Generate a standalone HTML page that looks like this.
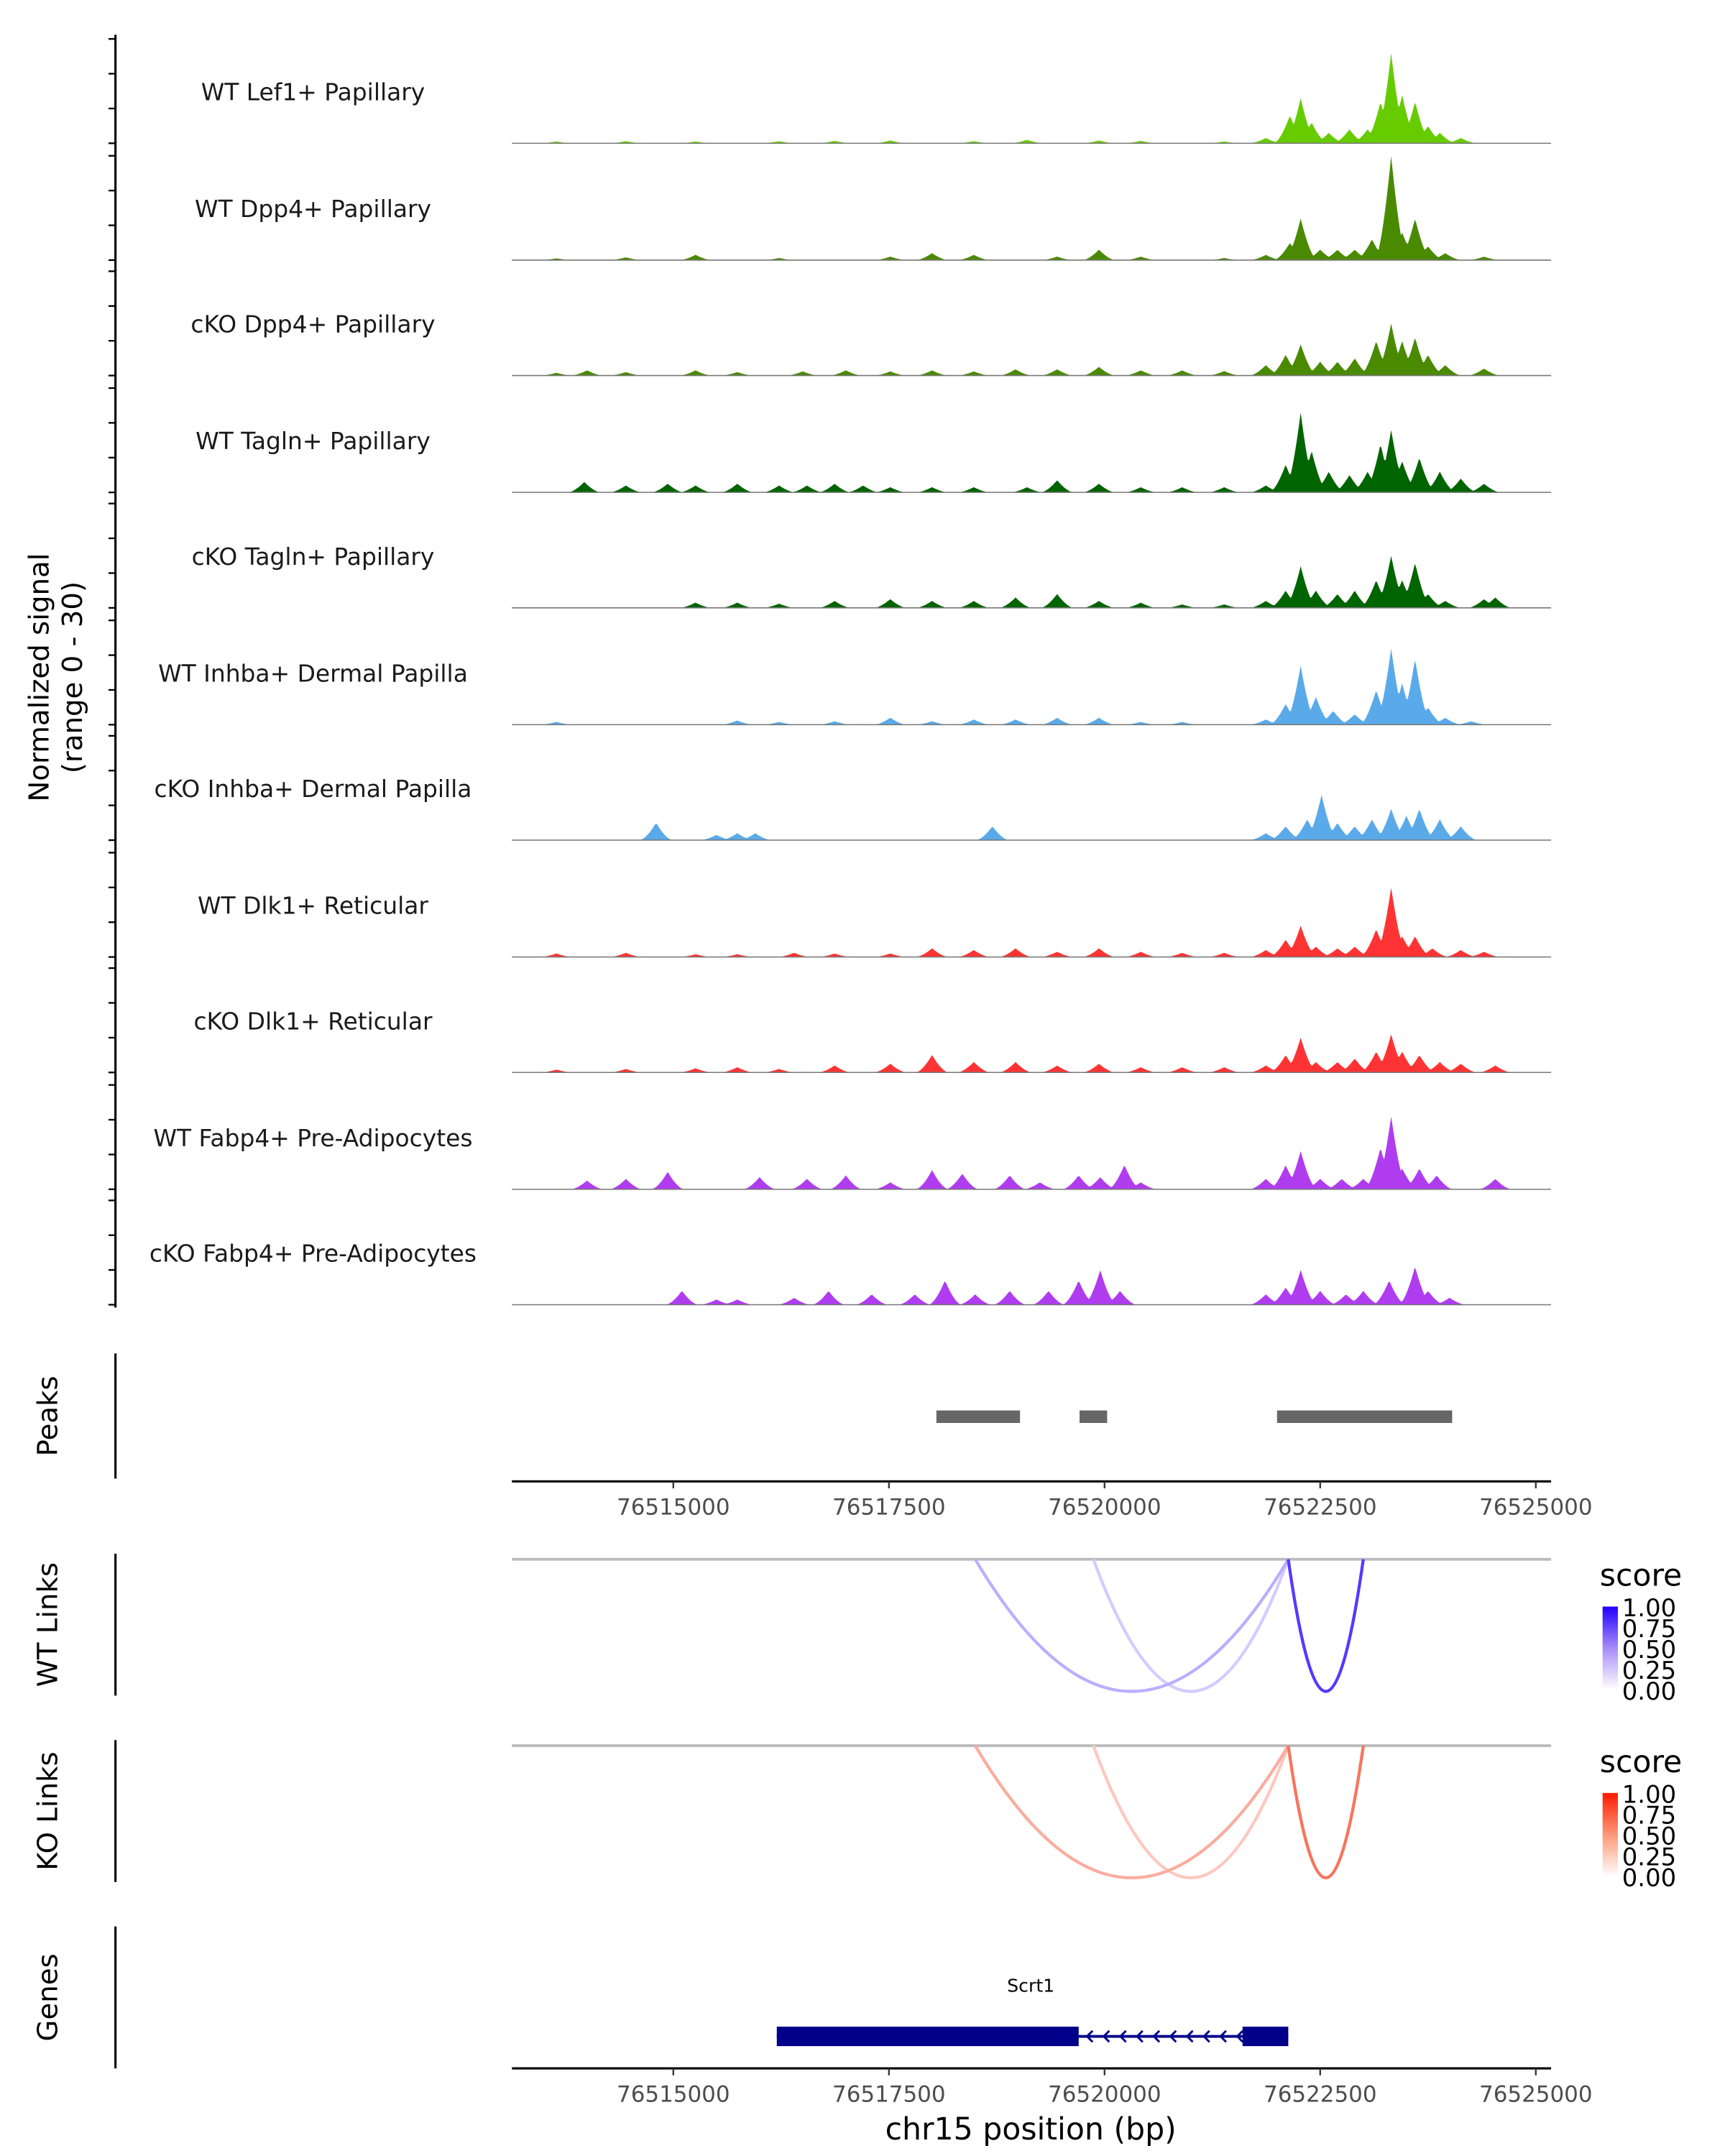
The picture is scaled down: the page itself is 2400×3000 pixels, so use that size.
<!DOCTYPE html>
<html><head><meta charset="utf-8"><style>
html,body{margin:0;padding:0;background:#fff}
svg{display:block;font-family:"DejaVu Sans","Liberation Sans",sans-serif}
</style></head><body>
<svg id="chart" width="2400" height="3000" viewBox="0 0 1240 1550" xmlns="http://www.w3.org/2000/svg">
<defs>
<linearGradient id="gBlue" x1="0" y1="1" x2="0" y2="0"><stop offset="0" stop-color="#ffffff"/><stop offset="0.5" stop-color="#a88cf8"/><stop offset="1" stop-color="#2200ff"/></linearGradient>
<linearGradient id="gRed" x1="0" y1="1" x2="0" y2="0"><stop offset="0" stop-color="#ffffff"/><stop offset="0.5" stop-color="#fb9878"/><stop offset="1" stop-color="#ff1a00"/></linearGradient>
</defs>
<g id="root"></g>
</svg>
<script>
const trackNames = ["WT Lef1+ Papillary","WT Dpp4+ Papillary","cKO Dpp4+ Papillary","WT Tagln+ Papillary","cKO Tagln+ Papillary","WT Inhba+ Dermal Papilla","cKO Inhba+ Dermal Papilla","WT Dlk1+ Reticular","cKO Dlk1+ Reticular","WT Fabp4+ Pre-Adipocytes","cKO Fabp4+ Pre-Adipocytes"];
const trackColors = ["#66cc00","#4a8a00","#4a8a00","#006400","#006400","#5aaaea","#5aaaea","#ff3333","#ff3333","#b03cf0","#b03cf0"];
const sig1=[[76513645,0.5],[76514450,0.6],[76515258,0.5],[76516226,0.6],[76516870,0.7],[76517516,0.8],[76518484,0.6],[76519100,1.0],[76519935,0.8],[76520420,0.7],[76521387,0.5],[76521870,1.5],[76522150,8],[76522274,13],[76522400,6],[76522600,3],[76522840,4],[76523050,4],[76523200,12],[76523323,26],[76523450,14],[76523600,12],[76523750,5],[76523887,3],[76524130,1.5]];
const sig2=[[76513645,0.5],[76514450,0.8],[76515258,1.5],[76516226,0.6],[76517516,1],[76518000,2],[76518484,1.5],[76519450,1],[76519935,3],[76520420,1],[76521387,0.6],[76521870,1.5],[76522150,5],[76522274,12],[76522500,3],[76522700,3],[76522900,3],[76523100,6],[76523323,30],[76523450,8],[76523600,12],[76523750,4],[76523950,2],[76524400,1]];
const sig3=[[76513645,0.8],[76514000,1.5],[76514450,1],[76515258,1.5],[76515742,1],[76516500,1.2],[76517000,1.5],[76517516,1.2],[76518000,1.5],[76518484,1.2],[76518968,1.8],[76519450,1.8],[76519935,2.5],[76520420,1.5],[76520900,1.5],[76521387,1.3],[76521870,3],[76522100,6],[76522274,9],[76522500,4],[76522700,4],[76522900,5],[76523150,10],[76523323,15],[76523450,10],[76523600,11],[76523750,6],[76523950,3],[76524400,2]];
const sig4=[[76513968,3],[76514450,2],[76514935,2.5],[76515258,2],[76515742,2.5],[76516226,2],[76516550,2],[76516870,2.5],[76517200,2],[76517516,1.5],[76518000,1.5],[76518484,1.5],[76519100,1.5],[76519450,3.5],[76519935,2.5],[76520420,1.5],[76520900,1.5],[76521387,1.5],[76521870,2],[76522100,8],[76522274,23],[76522400,12],[76522600,6],[76522840,5],[76523050,6],[76523200,14],[76523323,18],[76523450,9],[76523650,10],[76523887,6],[76524130,4],[76524400,2.5]];
const sig5=[[76515258,1.5],[76515742,1.5],[76516226,1.2],[76516870,2],[76517516,2.5],[76518000,2],[76518484,2],[76518968,3],[76519450,4],[76519935,2],[76520420,1.5],[76520900,1],[76521387,1],[76521870,2],[76522100,5],[76522274,12],[76522450,5],[76522700,4],[76522900,5],[76523150,8],[76523323,15],[76523450,8],[76523600,13],[76523750,4],[76523950,2],[76524400,2.5],[76524530,3]];
const sig6=[[76513645,0.8],[76515742,1.2],[76516226,0.8],[76516870,1],[76517516,2],[76518000,1],[76518484,1.5],[76518968,1.5],[76519450,2],[76519935,2],[76520420,0.8],[76520900,0.8],[76521870,1.5],[76522100,6],[76522274,17],[76522450,8],[76522650,4],[76522900,3],[76523150,10],[76523323,22],[76523450,12],[76523600,19],[76523750,5],[76523950,2],[76524250,1]];
const sig7=[[76514800,5],[76515500,1.5],[76515742,2],[76515950,2],[76518700,4],[76521870,2],[76522100,4],[76522350,6],[76522516,13],[76522700,5],[76522900,4],[76523100,6],[76523323,9],[76523500,7],[76523650,9],[76523887,6],[76524130,4]];
const sig8=[[76513645,1],[76514450,1.2],[76515258,0.8],[76515742,0.8],[76516400,1.2],[76516870,1],[76517516,1],[76518000,2.5],[76518484,2],[76518968,2.5],[76519450,1.5],[76519935,2.5],[76520420,1.5],[76520900,1.2],[76521387,1.2],[76521870,2],[76522100,5],[76522274,9],[76522450,3],[76522700,2.5],[76522900,3],[76523150,8],[76523323,20],[76523450,6],[76523600,6],[76523800,2.5],[76524130,2],[76524400,1.5]];
const sig9=[[76513645,0.8],[76514450,1],[76515258,1.2],[76515742,1.5],[76516226,1],[76516870,2],[76517516,2.5],[76518000,5],[76518484,3],[76518968,3],[76519450,2],[76519935,2.5],[76520420,1.5],[76520900,1.5],[76521387,1.5],[76521870,2],[76522100,5],[76522274,10],[76522450,3],[76522700,3],[76522900,4],[76523150,6],[76523323,11],[76523450,6],[76523650,5],[76523887,3],[76524130,2.5],[76524530,2]];
const sig10=[[76514000,2.5],[76514450,3],[76514935,5],[76516000,3.5],[76516550,3],[76517000,4],[76517516,2],[76518000,5.5],[76518350,4.5],[76518900,4],[76519250,2],[76519700,4],[76519950,3.5],[76520230,7],[76520420,2],[76521870,3],[76522100,7],[76522274,11],[76522500,3],[76522750,3],[76523000,3],[76523200,12],[76523323,21],[76523450,6],[76523650,6],[76523850,4],[76524530,3]];
const sig11=[[76515100,4],[76515500,1.5],[76515742,1.5],[76516400,2],[76516800,4],[76517300,3],[76517800,3],[76518150,7],[76518500,3],[76518900,4],[76519350,4],[76519700,7],[76519950,10],[76520180,4],[76521870,3],[76522100,5],[76522274,10],[76522500,4],[76522800,3],[76523000,4],[76523300,7],[76523600,11],[76523750,4],[76524000,2]];
const signals=[sig1,sig2,sig3,sig4,sig5,sig6,sig7,sig8,sig9,sig10,sig11];
const peakStarts=[76518050,76519710,76522000];
const peakEnds=[76519020,76520030,76524030];
const xTicks=[76515000,76517500,76520000,76522500,76525000];
const xTickLabels=["76515000","76517500","76520000","76522500","76525000"];
const wtLinkStart=[76518500,76519870,76522130];
const wtLinkEnd=[76522130,76522130,76523000];
const wtLinkScore=[0.35,0.22,0.85];
const koLinkStart=[76518500,76519870,76522130];
const koLinkEnd=[76522130,76522130,76523000];
const koLinkScore=[0.45,0.3,0.75];
const legendLabels=["1.00","0.75","0.50","0.25","0.00"];
const geneExonStart=[76516200,76521600];
const geneExonEnd=[76519700,76522130];

const NS="http://www.w3.org/2000/svg";
const root=document.getElementById('root');
function mk(tag,attrs,parent){const e=document.createElementNS(NS,tag);for(const k in attrs)e.setAttribute(k,attrs[k]);(parent||root).appendChild(e);return e;}
const X0=368,X1=1115,BP0=76513129,PXPERBP=62/1000;
function xs(bp){return X0+(bp-BP0)*PXPERBP;}
const baseY=[103,187,270,354,437,521,604,688,771,855,938];
const valPx=2.5, HW=190;

let e=mk('line',{x1:83,y1:25,x2:83,y2:940,stroke:'#000','stroke-width':1.6});

baseY.forEach((b,i)=>{
  [0,25,50,75].forEach(o=>{const t=mk('line',{x1:78,y1:b-o,x2:83,y2:b-o,stroke:'#000','stroke-width':1.2});
  });
});
let yt=mk('text',{x:0,y:0,'font-size':20,'text-anchor':'middle',fill:'#000',transform:'translate(41,487) rotate(-90)'});

let ts1=mk('tspan',{x:0,dy:-6},yt);ts1.textContent='Normalized signal';
let ts2=mk('tspan',{x:0,dy:24},yt);ts2.textContent='(range 0 - 30)';

signals.forEach((pts,i)=>{
  const b=baseY[i];
  let d='M'+X0+','+b;
  for(let px=X0;px<=X1;px+=1){
    const bp=BP0+(px-X0)/PXPERBP;let v=0;
    pts.forEach(p=>{const dd=Math.abs(bp-p[0])/HW;if(dd<1){const w=Math.pow(1-dd,1.6);v=Math.max(v,p[1]*w);}});
    d+=' L'+px+','+(b-v*valPx).toFixed(2);
  }
  d+=' L'+X1+','+b+' Z';
  const a=mk('path',{d:d,fill:trackColors[i],stroke:'none'});
  
  const bl=mk('line',{x1:X0,y1:b,x2:X1,y2:b,stroke:'#777','stroke-width':0.8});
  
  const lb=mk('text',{x:225,y:b-31,'font-size':17,'text-anchor':'middle',fill:'#1a1a1a'});
  
  lb.textContent=trackNames[i];
});

function panelAxis(y0,y1,title,cy){
  const l=mk('line',{x1:83,y1:y0,x2:83,y2:y1,stroke:'#000','stroke-width':1.6});
  
  const t=mk('text',{x:0,y:0,'font-size':20,'text-anchor':'middle',fill:'#000',transform:'translate(41,'+cy+') rotate(-90)'});
  
  t.textContent=title;
}
panelAxis(973,1063,'Peaks',1018);
panelAxis(1117,1219,'WT Links',1168);
panelAxis(1251,1353,'KO Links',1302);
panelAxis(1385,1487,'Genes',1436);

peakStarts.forEach((s,i)=>{
  const r=mk('rect',{x:xs(s),y:1014,width:xs(peakEnds[i])-xs(s),height:9,fill:'#666'});
  
});

function xAxis(y){
  const l=mk('line',{x1:X0,y1:y,x2:X1,y2:y,stroke:'#000','stroke-width':1.6});
  
  xTicks.forEach((t,i)=>{
    const tk=mk('line',{x1:xs(t),y1:y,x2:xs(t),y2:y+5,stroke:'#333','stroke-width':1.2});
    
    const tl=mk('text',{x:xs(t),y:y+24,'font-size':16,'text-anchor':'middle',fill:'#4d4d4d'});
    
    tl.textContent=xTickLabels[i];
  });
}
xAxis(1065);

function links(y,st,en,sc,c1,grad,name){
  const bl=mk('line',{x1:X0,y1:y,x2:X1,y2:y,stroke:'#bbb','stroke-width':2});
  
  const idx=sc.map((s,i)=>i).sort((a,b)=>sc[a]-sc[b]);
  idx.forEach(i=>{
    const a=xs(st[i]),b=xs(en[i]),m=(a+b)/2;
    const col=c1(sc[i]);
    const p=mk('path',{d:'M'+a+','+y+' Q'+m+','+(y+2*95)+' '+b+','+y,fill:'none',stroke:col,'stroke-width':2.2});
    
  });
  const lt=mk('text',{x:1150,y:y+19,'font-size':22,fill:'#000'});
  lt.textContent='score';
  const r=mk('rect',{x:1152,y:y+34,width:11,height:60,fill:'url(#'+grad+')'});
  
  legendLabels.forEach((t,k)=>{
    const tx=mk('text',{x:1166,y:y+41+k*15,'font-size':17.5,fill:'#000'});
    
    tx.textContent=t;
  });
}
function mix(c,s){return 'rgb('+c.map(v=>Math.round(255+(v-255)*s)).join(',')+')';}
links(1121,wtLinkStart,wtLinkEnd,wtLinkScore,s=>mix([60,20,255],Math.min(1,s*1.0)),'gBlue','wt-links');
links(1255,koLinkStart,koLinkEnd,koLinkScore,s=>mix([245,70,40],Math.min(1,s*1.0)),'gRed','ko-links');

const gn=mk('text',{x:741,y:1432,'font-size':13,'text-anchor':'middle',fill:'#000'});
gn.textContent='Scrt1';
const gl=mk('line',{x1:xs(geneExonStart[0]),y1:1464,x2:xs(geneExonEnd[1]),y2:1464,stroke:'#00008b','stroke-width':2});

for(let px=xs(geneExonEnd[0])+6;px<xs(geneExonStart[1]);px+=12){
  const ar=mk('path',{d:'M'+(px+4)+',1460 L'+px+',1464 L'+(px+4)+',1468',fill:'none',stroke:'#00008b','stroke-width':1.5});
  
}
geneExonStart.forEach((s,i)=>{
  const r=mk('rect',{x:xs(s),y:1457,width:xs(geneExonEnd[i])-xs(s),height:14,fill:'#00008b'});
  
});
xAxis(1487);
const xt=mk('text',{x:741,y:1538,'font-size':22,'text-anchor':'middle',fill:'#000'});
xt.textContent='chr15 position (bp)';
</script>
</body></html>
